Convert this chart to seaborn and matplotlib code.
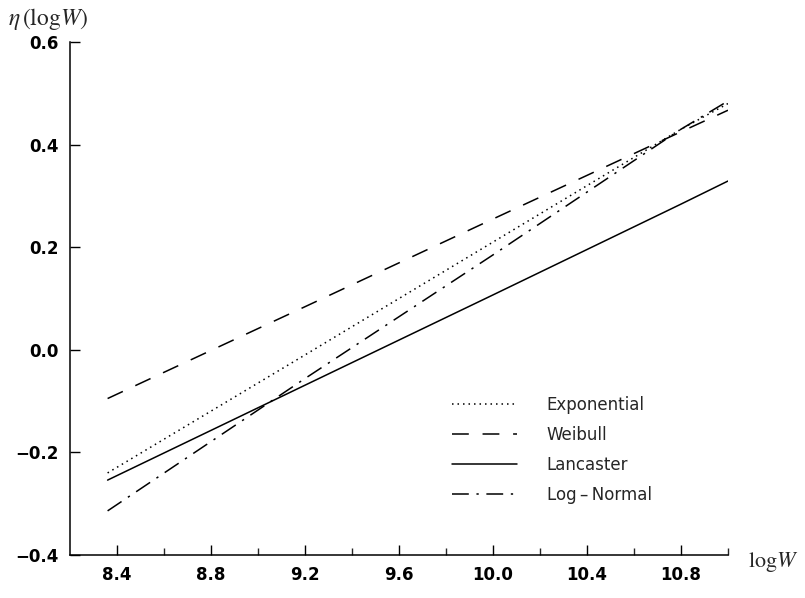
import numpy as np
import pandas as pd
import matplotlib
matplotlib.use("Agg")
import matplotlib.pyplot as plt
import seaborn as sns

# ---- data ----
log_w = [8.36, 9.2, 10.0, 10.8, 11.0]
exponential = [-0.24, -0.01, 0.21, 0.43, 0.48]
weibull = [-0.095, 0.084, 0.255, 0.425, 0.467]
lancaster = [-0.254, -0.069, 0.107, 0.284, 0.329]
log_normal = [-0.314, -0.056, 0.185, 0.43, 0.485]
series_names = ["Exponential", "Weibull", "Lancaster", "Log\u2009\u2013\u2009Normal"]
x_major = [8.4, 8.8, 9.2, 9.6, 10.0, 10.4, 10.8]
y_major = [-0.4, -0.2, 0.0, 0.2, 0.4, 0.6]

rows = []
for name, vals in zip(series_names, [exponential, weibull, lancaster, log_normal]):
    for xv, yv in zip(log_w, vals):
        rows.append({"logW": xv, "eta": yv, "model": name})
df = pd.DataFrame(rows)

sns.set_theme(style="ticks")
plt.rcParams["font.family"] = ["DejaVu Sans"]
plt.rcParams["mathtext.fontset"] = "stix"

fig = plt.figure(figsize=(8.05, 5.98), dpi=100)
ax = fig.add_axes([70 / 805, 1 - 555 / 598, (728 - 70) / 805, (555 - 42) / 598])

dashes = {
    series_names[0]: (1.0, 2.6),
    series_names[1]: (11, 9),
    series_names[2]: "",
    series_names[3]: (11, 5, 1.5, 5),
}
palette = {n: "black" for n in series_names}
sns.lineplot(data=df, x="logW", y="eta", hue="model", style="model",
             palette=palette, dashes=dashes, linewidth=1.1, ax=ax,
             legend=True, sort=False)

ax.set_xlim(8.2, 11.0)
ax.set_ylim(-0.4, 0.6)
ax.set_xticks(x_major)
ax.set_xticks(np.arange(8.6, 11.01, 0.4), minor=True)
ax.set_yticks(y_major)
ax.set_xticklabels([f"{v:.1f}" for v in x_major])
ax.set_yticklabels([f"{v:.1f}".replace("-", "\u2212") for v in y_major])
ax.tick_params(axis="both", which="major", direction="in", length=7, width=1.0,
               labelsize=12, colors="black", pad=8)
ax.tick_params(axis="x", which="minor", direction="in", length=5, width=1.0)
for lab in ax.get_xticklabels() + ax.get_yticklabels():
    lab.set_fontweight("bold")
for s in ["top", "right"]:
    ax.spines[s].set_visible(False)
for s in ["left", "bottom"]:
    ax.spines[s].set_color("black")
    ax.spines[s].set_linewidth(1.1)
ax.set_xlabel("")
ax.set_ylabel("")

handles, labels = ax.get_legend_handles_labels()
leg = ax.legend(handles, labels, loc="upper left", bbox_to_anchor=(0.58, 0.31),
                frameon=False, fontsize=12, handlelength=3.9, handletextpad=1.8,
                labelspacing=0.72, borderpad=0, borderaxespad=0)

fig.text(8 / 805, 1 - 19 / 598, r"$\eta\,(\mathrm{log}W)$",
         fontsize=17, va="center", ha="left")
fig.text(748 / 805, 1 - 562 / 598, r"$\mathrm{log}W$", fontsize=16, va="center", ha="left")

fig.savefig("out.png", dpi=100)
